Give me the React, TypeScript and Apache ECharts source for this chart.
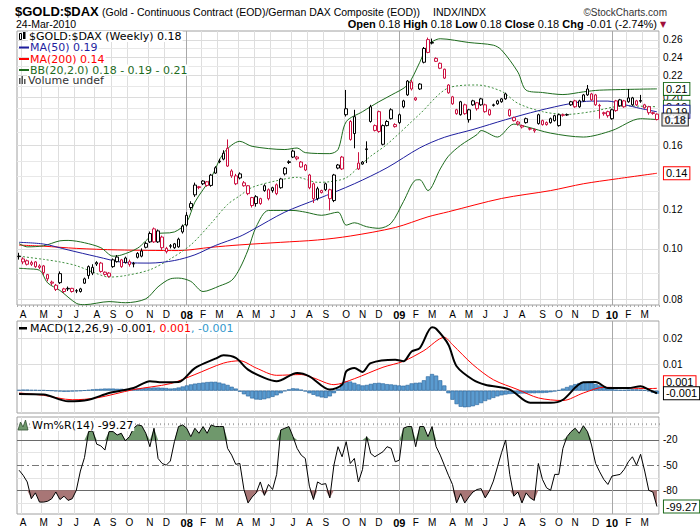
import React, { useEffect, useRef } from "react";
import * as echarts from "echarts";

// weekly bars, first bar = week of 26-Mar-2007, last = week of 22-Mar-2010
const firstWeek = Date.UTC(2007, 2, 26);
const weekCount = 157;

// [open, close, low, high]
const candles: number[][] = [
  [0.0968, 0.097, 0.0955, 0.0985], [0.0945, 0.0958, 0.0935, 0.0965], [0.0935, 0.095, 0.093, 0.0955],
  [0.0935, 0.0942, 0.0928, 0.095], [0.0945, 0.0925, 0.092, 0.0948], [0.0928, 0.0922, 0.0915, 0.0935],
  [0.0928, 0.09, 0.089, 0.0932], [0.0892, 0.0875, 0.0865, 0.0895], [0.0862, 0.0858, 0.085, 0.0868],
  [0.0834, 0.085, 0.0828, 0.0855], [0.0896, 0.086, 0.0855, 0.0905], [0.0826, 0.0836, 0.082, 0.084],
  [0.0836, 0.0838, 0.0828, 0.0845], [0.0838, 0.0826, 0.0822, 0.084], [0.0828, 0.0829, 0.082, 0.0835],
  [0.0826, 0.0836, 0.0822, 0.084], [0.0858, 0.0875, 0.0855, 0.088], [0.0925, 0.0888, 0.0875, 0.093],
  [0.0898, 0.0922, 0.089, 0.0935], [0.0936, 0.0942, 0.0928, 0.0948], [0.094, 0.0905, 0.09, 0.0945],
  [0.0893, 0.0902, 0.0888, 0.0905], [0.0885, 0.0898, 0.088, 0.0902], [0.0925, 0.0954, 0.092, 0.096],
  [0.0946, 0.0966, 0.0942, 0.0975], [0.0925, 0.0954, 0.092, 0.0958], [0.0942, 0.0962, 0.0938, 0.0968],
  [0.0946, 0.0934, 0.0925, 0.0955], [0.0936, 0.0938, 0.0922, 0.0945], [0.0965, 0.0982, 0.096, 0.0988],
  [0.097, 0.0993, 0.0965, 0.1005], [0.101, 0.1028, 0.1005, 0.1035], [0.1035, 0.1075, 0.103, 0.1085],
  [0.1098, 0.1035, 0.103, 0.1105], [0.1035, 0.1088, 0.103, 0.1095], [0.1058, 0.1008, 0.0998, 0.1065],
  [0.099, 0.1005, 0.0982, 0.1012], [0.1015, 0.1017, 0.1005, 0.1025], [0.1008, 0.1026, 0.1003, 0.103],
  [0.1012, 0.1048, 0.1008, 0.1055], [0.1083, 0.1112, 0.1075, 0.112], [0.1117, 0.1168, 0.111, 0.1185],
  [0.1232, 0.121, 0.1195, 0.1245], [0.1282, 0.134, 0.127, 0.1355], [0.133, 0.1325, 0.1315, 0.1335],
  [0.1348, 0.1365, 0.134, 0.137], [0.136, 0.1338, 0.133, 0.1365], [0.1338, 0.1402, 0.133, 0.141],
  [0.1415, 0.145, 0.141, 0.146], [0.149, 0.1495, 0.148, 0.151], [0.1508, 0.1549, 0.15, 0.157],
  [0.1584, 0.1461, 0.1455, 0.1649], [0.1397, 0.1429, 0.1385, 0.144], [0.1397, 0.1348, 0.134, 0.141],
  [0.1384, 0.141, 0.1375, 0.142], [0.1354, 0.1336, 0.133, 0.1365], [0.1336, 0.1289, 0.128, 0.134],
  [0.1266, 0.1221, 0.121, 0.127], [0.1232, 0.1271, 0.1215, 0.128], [0.1232, 0.126, 0.1225, 0.1265],
  [0.1307, 0.1336, 0.13, 0.1345], [0.1312, 0.126, 0.125, 0.132], [0.1307, 0.1324, 0.1295, 0.133],
  [0.1342, 0.1289, 0.128, 0.135], [0.1324, 0.1378, 0.1318, 0.1385], [0.141, 0.1448, 0.14, 0.1455],
  [0.1485, 0.149, 0.1475, 0.15], [0.1522, 0.1564, 0.1515, 0.1575], [0.1522, 0.151, 0.15, 0.153],
  [0.1488, 0.1455, 0.145, 0.1495], [0.1468, 0.1435, 0.1428, 0.1475], [0.1403, 0.1324, 0.1315, 0.141],
  [0.1348, 0.126, 0.1235, 0.1355], [0.126, 0.1318, 0.125, 0.133], [0.1307, 0.1295, 0.129, 0.1312],
  [0.1348, 0.1312, 0.1305, 0.1355], [0.1312, 0.126, 0.1194, 0.1318], [0.1249, 0.1403, 0.124, 0.141],
  [0.1448, 0.1468, 0.144, 0.1475], [0.1522, 0.1442, 0.1435, 0.153], [0.1845, 0.1896, 0.183, 0.2065],
  [0.1789, 0.1649, 0.164, 0.18], [0.1829, 0.1694, 0.1584, 0.1887], [0.1481, 0.1442, 0.1435, 0.1556],
  [0.1475, 0.1488, 0.147, 0.1495], [0.1575, 0.158, 0.1481, 0.1635], [0.1789, 0.1913, 0.178, 0.193],
  [0.1718, 0.1756, 0.171, 0.1765], [0.1871, 0.171, 0.17, 0.188], [0.1613, 0.1756, 0.1605, 0.1765],
  [0.1756, 0.1789, 0.175, 0.18], [0.1812, 0.1887, 0.1805, 0.19], [0.1748, 0.1764, 0.174, 0.1775],
  [0.1845, 0.178, 0.177, 0.1855], [0.1965, 0.1913, 0.19, 0.1975], [0.2019, 0.215, 0.201, 0.216],
  [0.2074, 0.2141, 0.206, 0.216], [0.1992, 0.1974, 0.1965, 0.2001], [0.2074, 0.2121, 0.2065, 0.213],
  [0.2342, 0.2494, 0.233, 0.251], [0.2596, 0.2449, 0.244, 0.262], [0.2555, 0.2562, 0.254, 0.2608],
  [0.2384, 0.2352, 0.2345, 0.2395], [0.2279, 0.2331, 0.227, 0.234], [0.2269, 0.2179, 0.217, 0.2275],
  [0.2112, 0.2038, 0.203, 0.212], [0.2001, 0.1939, 0.193, 0.201], [0.1887, 0.1854, 0.1845, 0.1895],
  [0.1845, 0.1957, 0.1838, 0.1965], [0.193, 0.1854, 0.1845, 0.194], [0.1804, 0.1887, 0.178, 0.1895],
  [0.193, 0.1965, 0.1921, 0.1975], [0.1896, 0.1948, 0.188, 0.1955], [0.193, 0.1983, 0.1921, 0.1992],
  [0.193, 0.1871, 0.1862, 0.194], [0.1887, 0.1845, 0.1837, 0.1895], [0.1925, 0.193, 0.1915, 0.194],
  [0.1965, 0.1939, 0.193, 0.1975], [0.1983, 0.1957, 0.1948, 0.199], [0.2028, 0.1983, 0.1975, 0.204],
  [0.1837, 0.1887, 0.1829, 0.1895], [0.1796, 0.1821, 0.1789, 0.1829], [0.1785, 0.177, 0.1756, 0.1795],
  [0.1756, 0.1745, 0.1733, 0.1764], [0.1812, 0.178, 0.1772, 0.1821], [0.1733, 0.1728, 0.1718, 0.174],
  [0.1725, 0.1715, 0.17, 0.1733], [0.1772, 0.1845, 0.1764, 0.1854], [0.1764, 0.1796, 0.1756, 0.1804],
  [0.178, 0.1764, 0.1756, 0.1789], [0.1812, 0.178, 0.1772, 0.1821], [0.1837, 0.1796, 0.1789, 0.1845],
  [0.1756, 0.1845, 0.1748, 0.1854], [0.1845, 0.184, 0.1829, 0.1854], [0.1843, 0.1846, 0.1835, 0.1855],
  [0.1957, 0.193, 0.1921, 0.1965], [0.1965, 0.1913, 0.1904, 0.1975], [0.1913, 0.1965, 0.1904, 0.1975],
  [0.1965, 0.2019, 0.1957, 0.2028], [0.2019, 0.2074, 0.201, 0.2112], [0.2028, 0.1974, 0.1965, 0.2038],
  [0.2019, 0.193, 0.1921, 0.2028], [0.1925, 0.1921, 0.1812, 0.1939], [0.1862, 0.1854, 0.1837, 0.1871],
  [0.1871, 0.1837, 0.1821, 0.1879], [0.1812, 0.1887, 0.1804, 0.1896], [0.1965, 0.188, 0.187, 0.1974],
  [0.1974, 0.1921, 0.1913, 0.1983], [0.1965, 0.1913, 0.1904, 0.1974], [0.1992, 0.1957, 0.1948, 0.2074],
  [0.193, 0.1992, 0.1921, 0.2001], [0.193, 0.1965, 0.1921, 0.1974], [0.1962, 0.1968, 0.1948, 0.2019],
  [0.1904, 0.193, 0.1896, 0.1939], [0.1913, 0.1862, 0.1845, 0.1921], [0.1862, 0.1856, 0.1845, 0.187],
  [0.185, 0.1805, 0.1798, 0.1856],
];

// [week index, value]
const ma50Pts = [
  [0, 0.1033], [6, 0.1025], [12, 0.0998], [19, 0.0968], [26, 0.0942], [32, 0.094], [38, 0.0951],
  [43, 0.0976], [48, 0.1018], [54, 0.1061], [57, 0.1092], [65, 0.1185], [73, 0.1258], [82, 0.1348],
  [90, 0.145], [98, 0.1587], [104, 0.1665], [111, 0.1725], [119, 0.1804], [127, 0.1879], [135, 0.1942],
  [140, 0.1963], [144, 0.1963], [148, 0.1932], [152, 0.1898], [156, 0.187],
];
const ma200Pts = [
  [0, 0.102], [6, 0.1015], [14, 0.1005], [24, 0.0998], [39, 0.0995], [47, 0.101], [54, 0.1021],
  [64, 0.1033], [73, 0.1044], [81, 0.1063], [92, 0.1105], [100, 0.116], [105, 0.1187], [118, 0.1261],
  [130, 0.1307], [138, 0.1348], [146, 0.1378], [156, 0.1414],
];
const bbUpPts = [
  [0, 0.1027], [2, 0.1012], [6, 0.1017], [10, 0.104], [12, 0.1042], [16, 0.1031], [20, 0.1008],
  [23, 0.097], [25, 0.0975], [29, 0.1006], [33, 0.1071], [38, 0.1083], [41, 0.1132], [43, 0.124],
  [47, 0.1387], [50, 0.1549], [54, 0.1635], [57, 0.1598], [65, 0.1575], [68, 0.1586], [70, 0.1553],
  [76, 0.1546], [78, 0.1575], [80, 0.1787], [84, 0.1871], [88, 0.1957], [91, 0.2017], [95, 0.2112],
  [98, 0.2342], [100, 0.2531], [103, 0.2606], [110, 0.2562], [116, 0.2531], [118, 0.2476],
  [122, 0.2239], [124, 0.2063], [128, 0.2041], [133, 0.2022], [138, 0.2047], [142, 0.2063], [156, 0.2075],
];
const bbMidPts = [
  [0, 0.097], [6, 0.0956], [10, 0.0945], [14, 0.0929], [19, 0.0896], [22, 0.0882], [26, 0.0888],
  [32, 0.0912], [37, 0.0958], [42, 0.1021], [47, 0.1127], [51, 0.1227], [54, 0.1277], [57, 0.1326],
  [63, 0.1367], [68, 0.1388], [73, 0.1357], [76, 0.1361], [80, 0.1385], [84, 0.148], [86, 0.1528],
  [90, 0.1613], [98, 0.1851], [105, 0.2084], [112, 0.2112], [118, 0.2052], [122, 0.1943],
  [128, 0.1871], [134, 0.1848], [140, 0.1871], [148, 0.1921], [156, 0.1913],
];
const bbLowPts = [
  [0, 0.0918], [2, 0.0916], [5, 0.091], [7, 0.0859], [10, 0.083], [14, 0.0783], [16, 0.0778],
  [22, 0.0789], [26, 0.0785], [31, 0.0799], [34, 0.0844], [37, 0.0875], [39, 0.0878], [42, 0.0865],
  [45, 0.0826], [49, 0.0847], [52, 0.0869], [54, 0.0918], [56, 0.0998], [58, 0.1109], [61, 0.1194],
  [67, 0.1194], [70, 0.1185], [74, 0.1168], [78, 0.1185], [80, 0.1117], [82, 0.1129], [85, 0.1109],
  [88, 0.1101], [91, 0.1127], [94, 0.1243], [97, 0.1371], [98, 0.1373], [100, 0.1307], [103, 0.1442],
  [105, 0.1528], [108, 0.1606], [112, 0.1686], [113, 0.1717], [117, 0.1667], [121, 0.1768],
  [124, 0.1748], [130, 0.1697], [138, 0.1667], [145, 0.1717], [152, 0.1812], [156, 0.1805],
];

const macdPts = [
  [0, -0.0013], [6, -0.0015], [12, -0.0041], [17, -0.0035], [22, -0.0009], [28, 0.001], [32, 0.0036],
  [35, 0.0032], [39, 0.0033], [43, 0.0087], [48, 0.0123], [50, 0.0136], [53, 0.0126], [56, 0.0081],
  [60, 0.0049], [63, 0.0036], [68, 0.0068], [71, 0.0055], [76, 0.0004], [79, 0.0023], [80, 0.0074],
  [82, 0.0087], [84, 0.0072], [86, 0.0106], [92, 0.0119], [94, 0.0113], [96, 0.0151], [98, 0.0164],
  [101, 0.0244], [102, 0.0238], [105, 0.0177], [107, 0.0094], [111, 0.0042], [114, 0.0023],
  [120, 0.0004], [125, -0.0047], [130, -0.0047], [133, -0.0035], [138, 0.0032], [141, 0.0033],
  [144, 0.001], [149, 0.001], [152, 0.0017], [154, 0.0004], [156, -0.001],
];
const signalPts = [
  [0, -0.0009], [6, -0.0018], [13, -0.0035], [19, -0.0028], [28, 0.0004], [37, 0.0027], [43, 0.0062],
  [50, 0.0106], [54, 0.0115], [58, 0.0087], [63, 0.0059], [69, 0.0062], [72, 0.0049], [77, 0.0023],
  [82, 0.0046], [89, 0.009], [94, 0.0113], [99, 0.0154], [104, 0.0205], [106, 0.0177], [111, 0.01],
  [116, 0.0042], [122, 0.0004], [127, -0.0028], [133, -0.0038], [138, -0.0009], [143, 0.0013],
  [149, 0.001], [154, 0.0008], [156, 0.0009],
];
const macdHist = [
  0.0003, 0.0004, 0.0004, 0.0003, 0.0003, 0.0002, 0.0002, 0.0001, 0.0,
  -0.0002, -0.0003, -0.0004, -0.0004, -0.0003, -0.0002, -0.0001, 0.0001,
  0.0003, 0.0005, 0.0006, 0.0007, 0.0008, 0.0008, 0.0008, 0.0007, 0.0007, 0.0006, 0.0006, 0.0007, 0.0008, 0.0009, 0.001,
  0.0011, 0.0012, 0.0012, 0.0011, 0.001, 0.0008, 0.0009, 0.0012,
  0.0016, 0.002, 0.0024, 0.0027, 0.0029, 0.0031, 0.0033, 0.0034, 0.0034, 0.0031,
  0.0027, 0.0022, 0.0015, 0.0008,
  -0.0004, -0.0014, -0.0022, -0.003, -0.0034, -0.0035, -0.0033, -0.0029, -0.0024, -0.0018,
  -0.001, -0.0002, 0.0005, 0.0009, 0.0008, 0.0004,
  -0.0003, -0.001, -0.0016, -0.0022, -0.0026, -0.0028, -0.0022, -0.001,
  0.0008, 0.0025, 0.0036, 0.0035, 0.003, 0.0024, 0.002, 0.0022, 0.0026,
  0.0029, 0.003, 0.0028, 0.0025, 0.0024, 0.0022, 0.002, 0.0019, 0.0022, 0.0028, 0.003, 0.0031,
  0.004, 0.0055, 0.0064, 0.0058, 0.004, 0.002,
  -0.001, -0.0035, -0.0052, -0.0062, -0.0064, -0.0063, -0.006, -0.0055, -0.0048, -0.004, -0.0034, -0.0028, -0.0022,
  -0.0018, -0.0015, -0.0013, -0.0012, -0.0012, -0.0011, -0.0011, -0.001, -0.001, -0.0009, -0.0009, -0.0008, -0.0006, -0.0003,
  0.0002, 0.0008, 0.0014, 0.002, 0.0025, 0.0029, 0.0032, 0.0033, 0.0031, 0.0026,
  0.002, 0.0014, 0.0009, 0.0006, 0.0004, 0.0003, 0.0003, 0.0004, 0.0005, 0.0005, 0.0004, 0.0002, -0.0002, -0.0008, -0.0012,
];

const willR = [
  -56, -62, -70, -90, -83, -94, -94, -93, -90, -82, -91, -87, -92, -90, -80, -57, -41, -10, -9, -25,
  -27, -32, -10, -10, -14, -12, -21, -16, -6, -2, -3, -12, -28, -6, -42, -48, -50, -45, -22, -4,
  -2, -6, -16, -6, -12, -4, -12, -2, -4, -4, -4, -30, -38, -49, -48, -79, -95, -88, -83, -70,
  -86, -73, -79, -61, -8, -6, -4, -16, -30, -38, -42, -75, -91, -70, -73, -72, -89, -50, -28, -40,
  -22, -48, -42, -70, -55, -16, -36, -40, -37, -34, -28, -30, -46, -44, -6, -4, -4, -28, -4, -4,
  -16, -4, -28, -38, -50, -62, -73, -95, -84, -95, -88, -82, -79, -78, -89, -81, -69, -52, -35, -20,
  -61, -87, -82, -95, -83, -89, -92, -48, -67, -77, -80, -61, -61, -30, -16, -10, -6, -12, -3, -10,
  -26, -48, -58, -67, -73, -63, -62, -61, -55, -46, -40, -50, -37, -57, -80, -82, -99.27,
];

// labelled price levels (0.14 and 0.18 sit under the value boxes, as in the original)
const priceTicks = [0.08, 0.1, 0.12, 0.16, 0.2, 0.22, 0.24, 0.26];
const priceMinor = [0.09, 0.11, 0.13, 0.14, 0.15, 0.17, 0.18, 0.19, 0.21, 0.23, 0.25];
const macdTicks = [0.01, 0.02];
const wrTicks = [-20, -50, -80];
const wrMinor = [-5, -35, -65, -95];
const monthLetters = ["J", "F", "M", "A", "M", "J", "J", "A", "S", "O", "N", "D"];

const RED = "#cc1040";
const BLUE = "#1f1f9f";
const GREEN = "#1d6b1d";
const AXF = "Liberation Sans";
const LGF = "DejaVu Sans";

const weeks: string[] = [];
for (let i = 0; i < weekCount; i++) {
  weeks.push(new Date(firstWeek + i * 7 * 86400000).toISOString().slice(0, 10));
}
const monthOf = weeks.map((w) => Number(w.slice(5, 7)) - 1);
const monthStart = weeks.map((_, i) => i > 0 && monthOf[i] !== monthOf[i - 1]);
const yearStarts = weeks.map((_, i) => i).filter((i) => monthStart[i] && monthOf[i] === 0);

const toLn = (pts: number[][]) => pts.map(([i, v]) => [i, Math.log(v)]);

const yearLines = yearStarts.map((i) => ({
  xAxis: i,
  label: { show: false },
  lineStyle: { color: "#a8a8a8", type: "solid", width: 1 },
}));

const makeXAxis = (gridIndex: number, labels: boolean, margin: number) => ({
  type: "category",
  gridIndex,
  data: weeks,
  boundaryGap: true,
  axisLine: { show: false },
  axisTick: { show: labels, interval: 0, length: 2, lineStyle: { color: "#aaa" } },
  axisLabel: {
    show: labels,
    interval: (i: number) => monthStart[i],
    margin,
    fontSize: 10,
    fontFamily: AXF,
    color: "#000",
    formatter: (v: string) => {
      const m = Number(v.slice(5, 7)) - 1;
      return m === 0 ? `{yr|${v.slice(2, 4)}}` : monthLetters[m];
    },
    rich: { yr: { fontWeight: "bold", fontSize: 11, fontFamily: AXF, color: "#000" } },
  },
  splitLine: {
    show: true,
    interval: (i: number) => monthStart[i] && monthOf[i] !== 0,
    lineStyle: { color: "#dedede", width: 1 },
  },
});

const endBox = (text: string, border: string, bold = false) => ({
  show: true,
  formatter: text,
  distance: 7,
  color: "#000",
  fontSize: 11,
  fontFamily: AXF,
  fontWeight: bold ? "bold" : "normal",
  backgroundColor: "#fff",
  borderColor: border,
  borderWidth: 1,
  padding: [1, 2, 0, 2],
});

const txt = (x: number, y: number, text: string, font: string, fill = "#000", align = "left", extra: any = {}) => ({
  type: "text",
  x,
  y,
  z: 100,
  style: { text, font, fill, align, textAlign: align, verticalAlign: "middle", textVerticalAlign: "middle", ...extra },
});

const App: React.FC = () => {
  const chartRef = useRef<HTMLDivElement>(null);

  useEffect(() => {
    document.body.style.margin = "0";
    if (!chartRef.current) return;
    const chart = echarts.init(chartRef.current, undefined, { renderer: "svg" });

    const candleItems = candles.map((c, i) => {
      const prev = i > 0 ? candles[i - 1][1] : c[0];
      const col = c[1] < prev ? RED : "#000";
      return {
        value: [Math.log(c[0]), Math.log(c[1]), Math.log(c[2]), Math.log(c[3])],
        itemStyle: { color: "#fff", color0: col, borderColor: col, borderColor0: col, borderWidth: 1 },
      };
    });

    const priceLines = [
      ...priceTicks.map((p) => ({
        yAxis: Math.log(p),
        label: { show: true, formatter: p.toFixed(2) },
        lineStyle: { color: "#dcdcdc", type: "solid", width: 1 },
      })),
      ...priceMinor.map((p) => ({
        yAxis: Math.log(p),
        label: { show: false },
        lineStyle: { color: "#e8e8e8", type: "solid", width: 1 },
      })),
      ...yearLines,
    ];

    const macdLines = [
      ...macdTicks.map((v) => ({
        yAxis: v,
        label: { show: true, formatter: v.toFixed(2) },
        lineStyle: { color: "#dcdcdc", type: "solid", width: 1 },
      })),
      { yAxis: 0, label: { show: false }, lineStyle: { color: "#dcdcdc", type: "solid", width: 1 } },
      ...yearLines,
    ];

    const wrLines = [
      ...wrTicks.map((v) => ({
        yAxis: v,
        label: { show: true, formatter: String(v) },
        lineStyle: v === -50
          ? { color: "#777", type: [7, 3, 2, 3], width: 1 }
          : { color: "#6a6a6a", type: "solid", width: 1 },
      })),
      ...wrMinor.map((v) => ({
        yAxis: v,
        label: { show: false },
        lineStyle: { color: "#e4e4e4", type: "solid", width: 1 },
      })),
      ...yearLines,
    ];

    const markLabel = { position: "end", distance: 4, color: "#000", fontSize: 10, fontFamily: AXF };

    const option: any = {
      animation: false,
      backgroundColor: "#fff",
      grid: [
        { left: 17, right: 41, top: 31, height: 274, show: true, borderColor: "#a0a0a0", borderWidth: 1, backgroundColor: "#fff" },
        { left: 17, right: 41, top: 321, height: 92, show: true, borderColor: "#a0a0a0", borderWidth: 1, backgroundColor: "#fff" },
        { left: 17, right: 41, top: 417, height: 97, show: true, borderColor: "#a0a0a0", borderWidth: 1, backgroundColor: "#fff" },
      ],
      xAxis: [makeXAxis(0, true, 4), makeXAxis(1, false, 4), makeXAxis(2, true, 3)],
      yAxis: [
        { type: "value", gridIndex: 0, min: -2.555, max: -1.3095, axisLabel: { show: false }, splitLine: { show: false }, axisLine: { show: false }, axisTick: { show: false } },
        { type: "value", gridIndex: 1, min: -0.0086, max: 0.0268, axisLabel: { show: false }, splitLine: { show: false }, axisLine: { show: false }, axisTick: { show: false } },
        { type: "value", gridIndex: 2, min: -108.2, max: 7.4, axisLabel: { show: false }, splitLine: { show: false }, axisLine: { show: false }, axisTick: { show: false } },
      ],
      series: [
        {
          name: "MA(200)", type: "line", xAxisIndex: 0, yAxisIndex: 0, data: toLn(ma200Pts),
          smooth: 0.3, showSymbol: false, symbol: "none", lineStyle: { color: "#ff0000", width: 1 },
          endLabel: endBox("0.14", "#ff0000"),
          markLine: { silent: true, symbol: "none", z: 1, label: markLabel, data: priceLines },
        },
        {
          name: "BB mid", type: "line", xAxisIndex: 0, yAxisIndex: 0, data: toLn(bbMidPts),
          smooth: 0.3, showSymbol: false, symbol: "none", lineStyle: { color: "#3f8f3f", width: 1, type: [2, 2] },
          endLabel: endBox("0.19", GREEN),
        },
        {
          name: "BB low", type: "line", xAxisIndex: 0, yAxisIndex: 0, data: toLn(bbLowPts),
          smooth: 0.3, showSymbol: false, symbol: "none", lineStyle: { color: GREEN, width: 1 },
        },
        {
          name: "BB up", type: "line", xAxisIndex: 0, yAxisIndex: 0, data: toLn(bbUpPts),
          smooth: 0.3, showSymbol: false, symbol: "none", lineStyle: { color: GREEN, width: 1 },
          endLabel: endBox("0.21", GREEN),
        },
        {
          name: "MA(50)", type: "line", xAxisIndex: 0, yAxisIndex: 0, data: toLn(ma50Pts),
          smooth: 0.3, showSymbol: false, symbol: "none", lineStyle: { color: BLUE, width: 1 },
          endLabel: endBox("0.19", BLUE),
        },
        {
          name: "$GOLD:$DAX", type: "candlestick", xAxisIndex: 0, yAxisIndex: 0, z: 4,
          barWidth: 3, data: candleItems,
        },
        {
          type: "scatter", xAxisIndex: 0, yAxisIndex: 0, z: 10, symbolSize: 1,
          itemStyle: { color: "rgba(0,0,0,0)" },
          data: [[weekCount - 1, Math.log(candles[weekCount - 1][1])]],
          label: { ...endBox("0.18", "#000", true), position: "right", distance: 5 },
        },
        // MACD panel
        {
          type: "bar", xAxisIndex: 1, yAxisIndex: 1, data: macdHist, barCategoryGap: "0%",
          itemStyle: { color: "#5a9bd0", borderColor: "#24629a", borderWidth: 0.6 },
          markLine: { silent: true, symbol: "none", z: 1, label: markLabel, data: macdLines },
        },
        {
          type: "line", xAxisIndex: 1, yAxisIndex: 1, data: signalPts, smooth: 0.3,
          showSymbol: false, symbol: "none", lineStyle: { color: "#ff0000", width: 1 },
          endLabel: { ...endBox("0.001", "#ff0000"), offset: [0, -6] },
        },
        {
          type: "line", xAxisIndex: 1, yAxisIndex: 1, data: macdPts, smooth: 0.3, z: 5,
          showSymbol: false, symbol: "none", lineStyle: { color: "#000", width: 2 },
          endLabel: endBox("-0.001", "#000"),
        },
        // Williams %R panel
        {
          type: "line", xAxisIndex: 2, yAxisIndex: 2, stack: "hi", stackStrategy: "all",
          data: willR.map(() => -20), showSymbol: false, symbol: "none", lineStyle: { opacity: 0 },
        },
        {
          type: "line", xAxisIndex: 2, yAxisIndex: 2, stack: "hi", stackStrategy: "all",
          data: willR.map((v) => Math.max(v + 20, 0)), showSymbol: false, symbol: "none",
          lineStyle: { opacity: 0 }, areaStyle: { color: "#6f986c", opacity: 1 },
        },
        {
          type: "line", xAxisIndex: 2, yAxisIndex: 2, stack: "lo", stackStrategy: "all",
          data: willR.map(() => -80), showSymbol: false, symbol: "none", lineStyle: { opacity: 0 },
        },
        {
          type: "line", xAxisIndex: 2, yAxisIndex: 2, stack: "lo", stackStrategy: "all",
          data: willR.map((v) => Math.min(v + 80, 0)), showSymbol: false, symbol: "none",
          lineStyle: { opacity: 0 }, areaStyle: { color: "#a87676", opacity: 1 },
        },
        {
          type: "line", xAxisIndex: 2, yAxisIndex: 2, data: willR, z: 5,
          showSymbol: false, symbol: "none", lineStyle: { color: "#000", width: 1 },
          endLabel: endBox("-99.27", GREEN),
          markLine: { silent: true, symbol: "none", z: 1, label: markLabel, data: wrLines },
        },
      ],
      graphic: [
        // header
        txt(15, 11, "$GOLD:$DAX", `bold 13px "${AXF}"`),
        txt(102, 12, "(Gold - Continuous Contract (EOD)/German DAX Composite (EOD))", `10.5px "${AXF}"`),
        txt(433, 12, "INDX/INDX", `10.5px "${AXF}"`),
        txt(667, 12, "©StockCharts.com", `10px "${AXF}"`, "#333", "right"),
        txt(16, 24, "24-Mar-2010", `10.5px "${AXF}"`),
        txt(657, 24, "{b|Open} 0.18 {b|High} 0.18 {b|Low} 0.18 {b|Close} 0.18 {b|Chg} -0.01 (-2.74%)", `11px "${AXF}"`, "#000", "right", {
          rich: { b: { fontWeight: "bold", fontSize: 11, fontFamily: AXF, fill: "#000" } },
        }),
        txt(660, 24, "▼", `8px "${LGF}"`, "#a0103a"),
        // price legend
        { type: "rect", z: 100, shape: { x: 19.5, y: 33.5, width: 2, height: 6 }, style: { fill: "#fff", stroke: "#000", lineWidth: 1 } },
        { type: "rect", z: 100, shape: { x: 23, y: 32, width: 2.5, height: 7 }, style: { fill: "#000" } },
        txt(28, 36.5, "$GOLD:$DAX (Weekly) 0.18", `11px "${LGF}"`, "#000", "left", { backgroundColor: "#fff", padding: [0, 1] }),
        { type: "rect", z: 100, shape: { x: 19, y: 46.5, width: 10, height: 2 }, style: { fill: BLUE } },
        txt(29, 47.5, "MA(50) 0.19", `11px "${LGF}"`, BLUE, "left", { backgroundColor: "#fff", padding: [0, 1] }),
        { type: "rect", z: 100, shape: { x: 19, y: 58, width: 10, height: 2 }, style: { fill: "#ff0000" } },
        txt(29, 59, "MA(200) 0.14", `11px "${LGF}"`, "#ff0000", "left", { backgroundColor: "#fff", padding: [0, 1] }),
        { type: "rect", z: 100, shape: { x: 19, y: 69, width: 10, height: 2 }, style: { fill: GREEN } },
        txt(29, 70, "BB(20,2.0) 0.18 - 0.19 - 0.21", `11px "${LGF}"`, GREEN, "left", { backgroundColor: "#fff", padding: [0, 1] }),
        { type: "rect", z: 100, shape: { x: 19, y: 78, width: 1.5, height: 6 }, style: { fill: "#555" } },
        { type: "rect", z: 100, shape: { x: 21.5, y: 76, width: 1.5, height: 8 }, style: { fill: "#555" } },
        { type: "rect", z: 100, shape: { x: 24, y: 79, width: 1.5, height: 5 }, style: { fill: "#555" } },
        txt(27, 80, "Volume undef", `11px "${LGF}"`, "#333", "left", { backgroundColor: "#fff", padding: [0, 1] }),
        // MACD legend
        { type: "rect", z: 100, shape: { x: 19, y: 327, width: 8, height: 2.5 }, style: { fill: "#000" } },
        txt(29, 328.5, "MACD(12,26,9) -0.001{r|, 0.001}{b|, -0.001}", `11px "${LGF}"`, "#000", "left", {
          backgroundColor: "#fff",
          padding: [0, 1],
          rich: {
            r: { fill: "#ff0000", fontSize: 11, fontFamily: LGF },
            b: { fill: "#3399cc", fontSize: 11, fontFamily: LGF },
          },
        }),
        // Williams %R legend
        {
          type: "polygon", z: 100,
          shape: { points: [[18, 430], [20.5, 422], [23, 427], [25.5, 420], [28, 430]] },
          style: { fill: "#6f986c", stroke: "#2f4f2f", lineWidth: 0.8 },
        },
        txt(31, 425.5, "Wm%R(14) -99.27", `11px "${LGF}"`, "#000", "left", { backgroundColor: "#fff", padding: [0, 1] }),
      ],
    };

    chart.setOption(option);

    return () => {
      chart.dispose();
    };
  }, []);

  return <div ref={chartRef} style={{ width: "700px", height: "530px" }} />;
};

export default App;
